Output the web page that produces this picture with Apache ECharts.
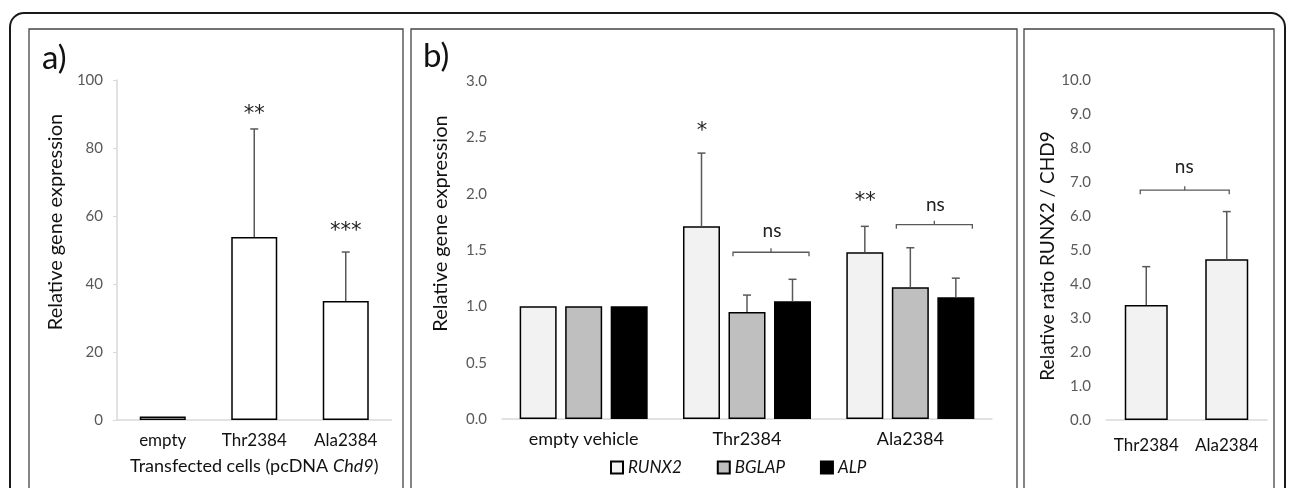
<!DOCTYPE html>
<html>
<head>
<meta charset="utf-8">
<script src="https://cdn.jsdelivr.net/npm/echarts@6/dist/echarts.min.js"></script>
<style>
  html, body { margin: 0; padding: 0; background: #fff; }
  #chart { width: 1290px; height: 488px; }
</style>
</head>
<body>
<div id="chart"></div>
<script>
// panel a
const catsA = ['empty', 'Thr2384', 'Ala2384']
const meanA = [1.0, 53.8, 35.0]
const errTopA = [1.0, 85.6, 49.4]
const marksA = [[1, 89.7, '**'], [2, 55.5, '***']]

// panel b
const catsB = ['empty vehicle', 'Thr2384', 'Ala2384']
const genes = ['RUNX2', 'BGLAP', 'ALP']
const runx2 = [1.0, 1.71, 1.48]
const runx2Top = [1.0, 2.36, 1.71]
const bglap = [1.0, 0.95, 1.17]
const bglapTop = [1.0, 1.10, 1.52]
const alp = [1.0, 1.045, 1.08]
const alpTop = [1.0, 1.24, 1.25]
const marksB = [[1, 2.55, '*'], [2, 1.93, '**']]
const bracketsB = [[1, 1.48], [2, 1.725]]
const nsB = [[1, 1.67, 'ns'], [2, 1.90, 'ns']]

// panel c
const catsC = ['Thr2384', 'Ala2384']
const ratioC = [3.38, 4.73]
const ratioTopC = [4.51, 6.13]
const bracketC = [[0, 6.76]]
const nsC = [[0, 7.44, 'ns']]

const FONT = 'Lato, "Open Sans", sans-serif'
const STAR_FONT = '"DejaVu Sans", sans-serif'
const ERR = '#595959'

function errRender(offset) {
  return function (params, api) {
    const x = api.coord([api.value(0), 0])[0] + offset
    const y0 = api.coord([api.value(0), api.value(1)])[1]
    const y1 = api.coord([api.value(0), api.value(2)])[1]
    if (y0 - y1 < 1) return
    return {
      type: 'group',
      children: [
        { type: 'line', shape: { x1: x, y1: y0, x2: x, y2: y1 }, style: { stroke: ERR, lineWidth: 1.5 } },
        { type: 'line', shape: { x1: x - 4, y1: y1, x2: x + 4, y2: y1 }, style: { stroke: ERR, lineWidth: 1.5 } }
      ]
    }
  }
}

function bracketRender(from, to) {
  return function (params, api) {
    const cx = api.coord([api.value(0), 0])[0]
    const y = api.coord([api.value(0), api.value(1)])[1]
    const x1 = cx + from, x2 = cx + to, xm = (x1 + x2) / 2
    const st = { stroke: ERR, lineWidth: 1.3, fill: 'none' }
    return {
      type: 'group',
      children: [
        { type: 'polyline', shape: { points: [[x1, y + 4], [x1, y], [x2, y], [x2, y + 4]] }, style: st },
        { type: 'line', shape: { x1: xm, y1: y, x2: xm, y2: y - 4 }, style: st }
      ]
    }
  }
}

function textRender(texts, size, dx, font) {
  return function (params, api) {
    const p = api.coord([api.value(0), api.value(1)])
    return {
      type: 'text',
      x: p[0] + dx, y: p[1],
      style: { text: texts[params.dataIndex], fontSize: size, fontFamily: font, fill: '#222', align: 'center', verticalAlign: 'middle' }
    }
  }
}

function catAxis(idx, data, size, margin) {
  return {
    type: 'category', gridIndex: idx, data: data,
    axisLine: { lineStyle: { color: '#d9d9d9', width: 1.5 } },
    axisTick: { show: false },
    axisLabel: { interval: 0, color: '#111', fontSize: size, fontFamily: FONT, margin: margin }
  }
}

function valAxis(idx, max, interval, digits, name, size, gap, pad, margin, showLine) {
  return {
    type: 'value', gridIndex: idx, min: 0, max: max, interval: interval,
    name: name, nameLocation: 'middle', nameGap: gap,
    nameTextStyle: { color: '#111', fontSize: size, fontFamily: FONT, padding: pad },
    axisLine: { show: showLine, lineStyle: { color: '#d9d9d9', width: 1.5 } },
    axisTick: { show: showLine, length: 4, lineStyle: { color: '#d9d9d9' } },
    splitLine: { show: false },
    axisLabel: { color: '#595959', fontSize: 15, fontFamily: FONT, margin: margin, formatter: v => v.toFixed(digits) }
  }
}

const chart = echarts.init(document.getElementById('chart'))
const barB = { borderColor: '#000', borderWidth: 1.5 }

chart.setOption({
  animation: false,
  grid: [
    { left: 117, right: 898.5, top: 80, bottom: 68 },
    { left: 502, right: 298, top: 81, bottom: 69 },
    { left: 1106, right: 23, top: 80, bottom: 68 }
  ],
  xAxis: [
    Object.assign(catAxis(0, catsA, 17, 12), {
      name: '{n|Transfected cells (pcDNA }{i|Chd9}{n|)}', nameLocation: 'middle', nameGap: 37,
      nameTextStyle: { rich: {
        n: { fontSize: 18, fontFamily: FONT, color: '#111' },
        i: { fontSize: 18, fontFamily: FONT, color: '#111', fontStyle: 'italic' }
      } }
    }),
    catAxis(1, catsB, 18, 11),
    catAxis(2, catsC, 17, 17)
  ],
  yAxis: [
    valAxis(0, 100, 20, 0, 'Relative gene expression', 20, 51, [0, 0, 0, 56], 14, true),
    valAxis(1, 3, 0.5, 1, 'Relative gene expression', 20, 51, [0, 0, 0, 53], 15, false),
    valAxis(2, 10, 1, 1, 'Relative ratio RUNX2 / CHD9', 19, 49, [0, 12, 0, 0], 15, false)
  ],
  legend: {
    left: 610, top: 459, padding: 0, itemWidth: 12, itemHeight: 12, itemGap: 35, icon: 'rect',
    textStyle: { fontStyle: 'italic', fontSize: 17, color: '#111', fontFamily: FONT },
    data: genes
  },
  graphic: [
    { type: 'rect', silent: true, shape: { x: 10, y: 13, width: 1275, height: 520, r: 14 }, style: { fill: 'none', stroke: '#1a1a1a', lineWidth: 2 } },
    { type: 'rect', silent: true, shape: { x: 29, y: 29, width: 374, height: 480 }, style: { fill: 'none', stroke: '#444', lineWidth: 1.3 } },
    { type: 'rect', silent: true, shape: { x: 411, y: 29, width: 606, height: 480 }, style: { fill: 'none', stroke: '#444', lineWidth: 1.3 } },
    { type: 'rect', silent: true, shape: { x: 1024, y: 29, width: 250, height: 480 }, style: { fill: 'none', stroke: '#444', lineWidth: 1.3 } },
    { type: 'text', x: 42, y: 58, style: { text: 'a)', fontSize: 33, fontFamily: FONT, fill: '#111', verticalAlign: 'middle' } },
    { type: 'text', x: 423, y: 56, style: { text: 'b)', fontSize: 33, fontFamily: FONT, fill: '#111', verticalAlign: 'middle' } }
  ],
  series: [
    // panel a
    { type: 'bar', xAxisIndex: 0, yAxisIndex: 0, data: meanA, barWidth: 46,
      itemStyle: { color: '#fff', borderColor: '#000', borderWidth: 1.5 } },
    { type: 'custom', xAxisIndex: 0, yAxisIndex: 0, renderItem: errRender(0),
      data: meanA.map((v, i) => [i, v, errTopA[i]]), z: 3 },
    { type: 'custom', xAxisIndex: 0, yAxisIndex: 0, renderItem: textRender(marksA.map(m => m[2]), 21, 0, STAR_FONT),
      data: marksA.map(m => [m[0], m[1]]), z: 3 },

    // panel b
    { type: 'bar', name: 'RUNX2', xAxisIndex: 1, yAxisIndex: 1, data: runx2, barWidth: 37, barGap: '23%',
      itemStyle: Object.assign({ color: '#f2f2f2' }, barB) },
    { type: 'bar', name: 'BGLAP', xAxisIndex: 1, yAxisIndex: 1, data: bglap, barWidth: 37, barGap: '23%',
      itemStyle: Object.assign({ color: '#bfbfbf' }, barB) },
    { type: 'bar', name: 'ALP', xAxisIndex: 1, yAxisIndex: 1, data: alp, barWidth: 37, barGap: '23%',
      itemStyle: Object.assign({ color: '#000' }, barB) },
    { type: 'custom', xAxisIndex: 1, yAxisIndex: 1, renderItem: errRender(-45.5),
      data: runx2.map((v, i) => [i, v, runx2Top[i]]), z: 3 },
    { type: 'custom', xAxisIndex: 1, yAxisIndex: 1, renderItem: errRender(0),
      data: bglap.map((v, i) => [i, v, bglapTop[i]]), z: 3 },
    { type: 'custom', xAxisIndex: 1, yAxisIndex: 1, renderItem: errRender(45.5),
      data: alp.map((v, i) => [i, v, alpTop[i]]), z: 3 },
    { type: 'custom', xAxisIndex: 1, yAxisIndex: 1, renderItem: textRender(marksB.map(m => m[2]), 21, -45, STAR_FONT),
      data: marksB.map(m => [m[0], m[1]]), z: 3 },
    { type: 'custom', xAxisIndex: 1, yAxisIndex: 1, renderItem: bracketRender(-14, 62),
      data: bracketsB, z: 3 },
    { type: 'custom', xAxisIndex: 1, yAxisIndex: 1, renderItem: textRender(nsB.map(m => m[2]), 19, 25, FONT),
      data: nsB.map(m => [m[0], m[1]]), z: 3 },

    // panel c
    { type: 'bar', xAxisIndex: 2, yAxisIndex: 2, data: ratioC, barWidth: 43,
      itemStyle: Object.assign({ color: '#f2f2f2' }, barB) },
    { type: 'custom', xAxisIndex: 2, yAxisIndex: 2, renderItem: errRender(0),
      data: ratioC.map((v, i) => [i, v, ratioTopC[i]]), z: 3 },
    { type: 'custom', xAxisIndex: 2, yAxisIndex: 2, renderItem: bracketRender(-6, 83),
      data: bracketC, z: 3 },
    { type: 'custom', xAxisIndex: 2, yAxisIndex: 2, renderItem: textRender(nsC.map(m => m[2]), 19, 38, FONT),
      data: nsC.map(m => [m[0], m[1]]), z: 3 }
  ]
})
</script>
</body>
</html>
